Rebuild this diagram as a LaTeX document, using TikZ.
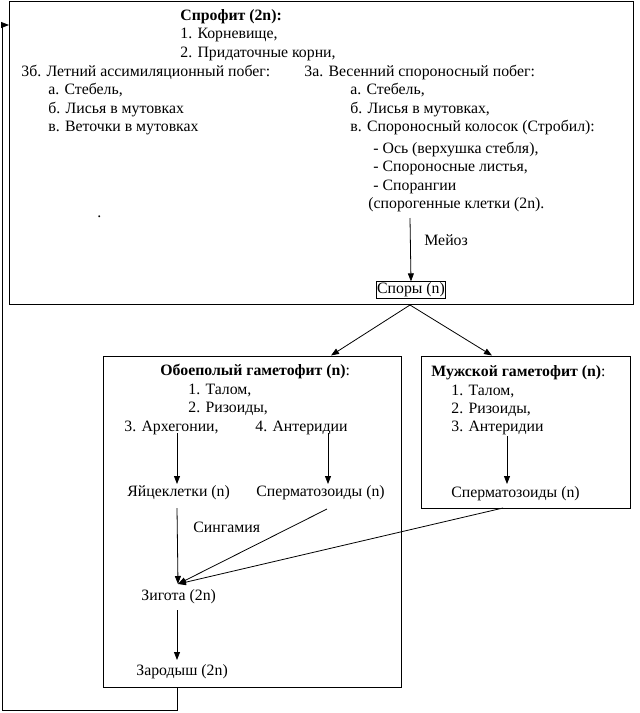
\documentclass[tikz,border=0pt]{standalone}
\usepackage{fontspec}
\setmainfont{Liberation Serif}
\usetikzlibrary{arrows.meta}
\begin{document}
\begin{tikzpicture}[x=1pt,y=-1pt, line width=0.8pt,
  txt/.style={anchor=base west, inner sep=0pt, font=\fontsize{15.8}{18.5}\selectfont},
  frame/.style={draw, line width=0.9pt, anchor=north west, inner sep=0pt},
  arr/.style={-{Triangle[length=8pt,width=6pt]}}]
\useasboundingbox (0,0) rectangle (640,713);

% frames
\node[frame, minimum width=624pt, minimum height=303pt] (top) at (9,1) {};
\node[frame, minimum width=298pt, minimum height=331pt] (gam) at (103,355.5) {};
\node[frame, minimum width=209pt, minimum height=152pt] (male) at (420.5,355.5) {};

% sporophyte text
\node[txt] (t1) at (180,20) {\textbf{Спрофит (2n):}};
\node[txt] (t2) at (180,38.5) {1. Корневище,};
\node[txt] (t3) at (180,57) {2. Придаточные корни,};
\node[txt] (l0) at (21,76) {3б. Летний ассимиляционный побег:};
\node[txt] (l1) at (48,94.5) {а. Стебель,};
\node[txt] (l2) at (48,113) {б. Лисья в мутовках};
\node[txt] (l3) at (48,131.5) {в. Веточки в мутовках};
\node[txt] (r0) at (304,76) {3а. Весенний спороносный побег:};
\node[txt] (r1) at (350,94.5) {а. Стебель,};
\node[txt] (r2) at (350,113) {б. Лисья в мутовках,};
\node[txt] (r3) at (350,131.5) {в. Спороносный колосок (Стробил):};
\node[txt] (s1) at (373,153) {- Ось (верхушка стебля),};
\node[txt] (s2) at (373,171.5) {- Спороносные листья,};
\node[txt] (s3) at (373,190) {- Спорангии};
\node[txt] (s4) at (368,208.5) {(спорогенные клетки (2n).};
\node[txt] (dot) at (97,217) {.};
\node[txt] (meioz) at (424,245) {Мейоз};
\node[draw, line width=0.8pt, inner sep=1pt, text height=11pt, text depth=3.5pt,
      font=\fontsize{15.8}{18.5}\selectfont] (spores) at (411,290) {Споры (n)};

% bisexual gametophyte
\node[txt] (g0) at (160,375) {\textbf{Обоеполый гаметофит (n)}:};
\node[txt] (g1) at (188,394) {1. Талом,};
\node[txt] (g2) at (188,412.5) {2. Ризоиды,};
\node[txt] (g3) at (124,431) {3. Архегонии,};
\node[txt] (g4) at (255,431) {4. Антеридии};
\node[txt] (egg) at (127,496) {Яйцеклетки (n)};
\node[txt] (sp1) at (256,496) {Сперматозоиды (n)};
\node[txt] (sing) at (193,532) {Сингамия};
\node[txt] (zyg) at (141,600) {Зигота (2n)};
\node[txt] (emb) at (136,675) {Зародыш (2n)};

% male gametophyte
\node[txt] (m0) at (431,376) {\textbf{Мужской гаметофит (n)}:};
\node[txt] (m1) at (451,395) {1. Талом,};
\node[txt] (m2) at (451,413) {2. Ризоиды,};
\node[txt] (m3) at (451,431) {3. Антеридии};
\node[txt] (sp2) at (451,497) {Сперматозоиды (n)};

% coordinates
\coordinate (meiA) at (410,218);
\coordinate (spB) at (410,305);
\coordinate (gamT) at (331,355.5);
\coordinate (maleT) at (492,355.5);
\coordinate (arA) at (177,433);
\coordinate (arB) at (177,484);
\coordinate (anA) at (328,433);
\coordinate (anB) at (328,484);
\coordinate (egA) at (177,508);
\coordinate (zyT) at (178,584);
\coordinate (sp1A) at (327,509);
\coordinate (sp2A) at (503,508);
\coordinate (zyA) at (177,610);
\coordinate (emT) at (177,660);
\coordinate (manA) at (507,436);
\coordinate (manB) at (507,484);
\coordinate (loopA) at (177,687);
\coordinate (loopB) at (177,710);
\coordinate (loopC) at (2,710);
\coordinate (loopD) at (2,25);
\coordinate (loopE) at (9,25);

% connectors
\draw[arr] (meiA) -- (spores.north);
\draw[arr] (spB) -- (gamT);
\draw[arr] (spB) -- (maleT);
\draw[arr] (arA) -- (arB);
\draw[arr] (anA) -- (anB);
\draw[arr] (egA) -- (zyT);
\draw[arr] (sp1A) -- (zyT);
\draw[arr] (sp2A) -- (zyT);
\draw[arr] (zyA) -- (emT);
\draw[arr] (manA) -- (manB);
\draw[arr] (loopA) -- (loopB) -- (loopC) -- (loopD) -- (loopE);
\end{tikzpicture}
\end{document}
